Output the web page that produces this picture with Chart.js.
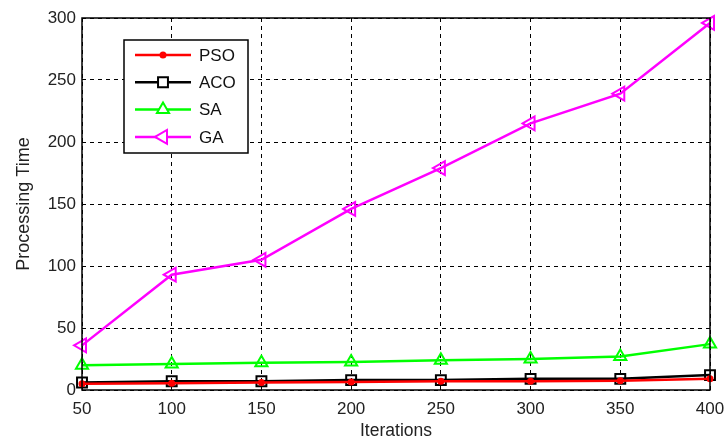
<!DOCTYPE html>
<html>
<head>
<meta charset="utf-8">
<script src="https://cdn.jsdelivr.net/npm/chart.js@4/dist/chart.umd.min.js"></script>
<style>
  html, body { margin: 0; padding: 0; background: #fff; }
  #wrap { width: 726px; height: 441px; }
</style>
</head>
<body>
<div id="wrap"><canvas id="timeChart" width="726" height="441"></canvas></div>
<script>
const iterations = [50, 100, 150, 200, 250, 300, 350, 400];
const psoTime = [5, 5.5, 6, 6.5, 7, 7, 7.5, 9];
const acoTime = [6, 7, 7, 8, 8, 9, 9, 12];
const saTime = [20, 21, 22, 22.5, 24, 25, 27, 37];
const gaTime = [36, 93, 105, 146, 179, 215, 239, 296];
const yTicks = [0, 50, 100, 150, 200, 250, 300];

const FONT = "'Liberation Sans', Arial, sans-serif";

function pts(values) {
  return iterations.map((x, i) => ({ x: x, y: values[i] }));
}

const series = [
  { label: "PSO", data: psoTime, color: "#ff0000", style: "circle", radius: 2.5, rot: 0, fill: true },
  { label: "ACO", data: acoTime, color: "#000000", style: "rect", radius: 7, rot: 0, fill: false },
  { label: "SA", data: saTime, color: "#00ff00", style: "triangle", radius: 7, rot: 0, fill: false },
  { label: "GA", data: gaTime, color: "#ff00ff", style: "triangle", radius: 8, rot: -90, fill: false },
];

// box around the plot + legend inside top-left
const frameAndLegend = {
  id: "frameAndLegend",
  afterDraw(chart) {
    const c = chart.ctx;
    const a = chart.chartArea;
    c.save();
    c.strokeStyle = "#000";
    c.lineWidth = 1.5;
    c.strokeRect(a.left, a.top, a.right - a.left, a.bottom - a.top);

    const bx = 124, by = 40, bw = 124, bh = 113;
    c.fillStyle = "#fff";
    c.fillRect(bx, by, bw, bh);
    c.lineWidth = 1.5;
    c.strokeRect(bx, by, bw, bh);

    c.font = "17px " + FONT;
    c.textBaseline = "middle";
    series.forEach((s, i) => {
      const y = 55 + i * 27.3;
      c.strokeStyle = s.color;
      c.lineWidth = 2.5;
      c.beginPath();
      c.moveTo(135, y);
      c.lineTo(191, y);
      c.stroke();
      c.fillStyle = s.fill ? s.color : "#fff";
      c.strokeStyle = s.color;
      c.lineWidth = 2;
      Chart.helpers.drawPoint(c, { pointStyle: s.style, radius: s.radius, rotation: s.rot, borderWidth: 2 }, 163, y);
      c.fillStyle = "#111";
      c.fillText(s.label, 199, y + 1);
    });
    c.restore();
  },
};

const ctx = document.getElementById("timeChart").getContext("2d");
const timeChart = new Chart(ctx, {
  type: "line",
  data: {
    datasets: series.map((s) => ({
      label: s.label,
      data: pts(s.data),
      borderColor: s.color,
      backgroundColor: s.fill ? s.color : "rgba(255,255,255,0)",
      borderWidth: 2.5,
      pointStyle: s.style,
      pointRadius: s.radius,
      pointRotation: s.rot,
      pointBorderWidth: 2,
      pointBorderColor: s.color,
      pointBackgroundColor: s.fill ? s.color : "rgba(255,255,255,0)",
      tension: 0,
      clip: false,
    })),
  },
  options: {
    responsive: false,
    animation: false,
    layout: { padding: { left: 0, right: 16, top: 18, bottom: 0 } },
    plugins: {
      legend: { display: false },
      tooltip: { enabled: false },
    },
    scales: {
      x: {
        type: "linear",
        min: 50,
        max: 400,
        afterFit: (scale) => {
          scale.height = 51;
          scale.paddingLeft = 0;
          scale.paddingRight = 0;
        },
        afterBuildTicks: (scale) => { scale.ticks = iterations.map((v) => ({ value: v })); },
        ticks: { color: "#222", font: { family: FONT, size: 17 }, padding: 9, maxRotation: 0 },
        grid: { color: "#000", lineWidth: 1, drawTicks: false },
        border: { display: false, dash: [4, 4] },
        title: { display: true, text: "Iterations", color: "#222", font: { family: FONT, size: 17.5 }, padding: { top: 0, bottom: -1 } },
      },
      y: {
        min: 0,
        max: 300,
        afterFit: (scale) => {
          scale.width = 82;
          scale.paddingTop = 0;
          scale.paddingBottom = 0;
        },
        afterBuildTicks: (scale) => { scale.ticks = yTicks.map((v) => ({ value: v })); },
        ticks: { color: "#222", font: { family: FONT, size: 17 }, padding: 6 },
        grid: { color: "#000", lineWidth: 1, drawTicks: false },
        border: { display: false, dash: [4, 4] },
        title: { display: true, text: "Processing Time", color: "#222", font: { family: FONT, size: 18 }, padding: { top: 13, bottom: 0 } },
      },
    },
  },
  plugins: [frameAndLegend],
});
</script>
</body>
</html>
